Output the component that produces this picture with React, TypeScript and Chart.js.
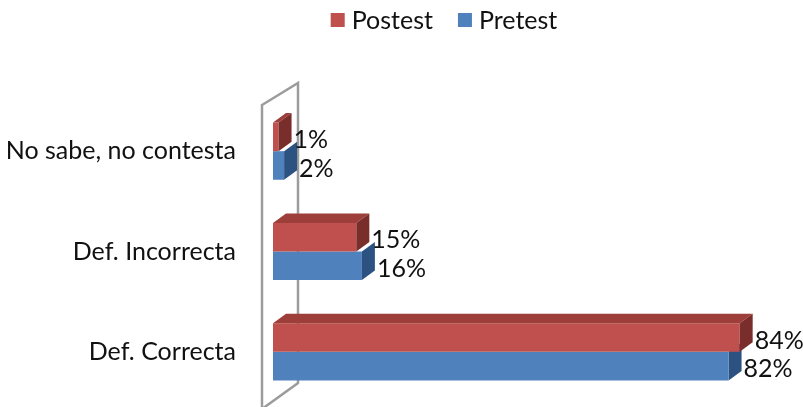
import { useEffect, useRef } from "react";
import { Chart, registerables } from "chart.js";

Chart.register(...registerables);

// Survey answers, top to bottom
const categories = ["No sabe, no contesta", "Def. Incorrecta", "Def. Correcta"];
const seriesNames = ["Postest", "Pretest"];
const postest = [1, 15, 84];
const pretest = [2, 16, 82];

const FONT = "Lato, 'Open Sans', sans-serif";
const TEXT_SIZE = 25;

// 3D extrusion offset of the bars (towards the back, up and right)
const DX = 13;
const DY = -9.5;

const FRONT = ["#C0504D", "#4F81BD"];
const TOP = ["#9E3E3B", "#3F6DA6"];
const SIDE = ["#7A2E2B", "#2C5282"];

type BarGeom = { x: number; y: number; base: number; height: number };

function geom(el: any): BarGeom {
  return el.getProps(["x", "y", "base", "height"], true);
}

function sideFace(ctx: CanvasRenderingContext2D, b: BarGeom, color: string) {
  const t = b.y - b.height / 2;
  const bt = b.y + b.height / 2;
  ctx.fillStyle = color;
  ctx.beginPath();
  ctx.moveTo(b.x, t);
  ctx.lineTo(b.x + DX, t + DY);
  ctx.lineTo(b.x + DX, bt + DY);
  ctx.lineTo(b.x, bt);
  ctx.closePath();
  ctx.fill();
}

function topFace(ctx: CanvasRenderingContext2D, b: BarGeom, color: string) {
  const t = b.y - b.height / 2;
  ctx.fillStyle = color;
  ctx.beginPath();
  ctx.moveTo(b.base, t);
  ctx.lineTo(b.base + DX, t + DY);
  ctx.lineTo(b.x + DX, t + DY);
  ctx.lineTo(b.x, t);
  ctx.closePath();
  ctx.fill();
}

const bars3d = {
  id: "bars3d",
  beforeDatasetsDraw(chart: any) {
    const ctx: CanvasRenderingContext2D = chart.ctx;
    const { left, top, bottom } = chart.chartArea;
    ctx.save();
    // side wall of the plot
    ctx.strokeStyle = "#9C9C9C";
    ctx.lineWidth = 2.5;
    ctx.lineJoin = "miter";
    ctx.beginPath();
    ctx.moveTo(left - 11, top + 4);
    ctx.lineTo(left + 25, top - 18);
    ctx.lineTo(left + 25, bottom - 19);
    ctx.lineTo(left - 11, bottom + 7);
    ctx.closePath();
    ctx.stroke();
    // shorter lower bars: their side sits behind the upper bar's front
    const upper = chart.getDatasetMeta(0).data;
    const lower = chart.getDatasetMeta(1).data;
    categories.forEach((_, j) => {
      const u = geom(upper[j]);
      const l = geom(lower[j]);
      if (l.x <= u.x) sideFace(ctx, l, SIDE[1]);
    });
    ctx.restore();
  },
  afterDatasetsDraw(chart: any) {
    const ctx: CanvasRenderingContext2D = chart.ctx;
    const upper = chart.getDatasetMeta(0).data;
    const lower = chart.getDatasetMeta(1).data;
    ctx.save();
    categories.forEach((_, j) => {
      const u = geom(upper[j]);
      const l = geom(lower[j]);
      topFace(ctx, u, TOP[0]);
      sideFace(ctx, u, SIDE[0]);
      if (l.x > u.x) sideFace(ctx, l, SIDE[1]);
    });
    // value labels
    ctx.font = `${TEXT_SIZE}px ${FONT}`;
    ctx.fillStyle = "#111";
    ctx.textAlign = "left";
    ctx.textBaseline = "middle";
    chart.data.datasets.forEach((ds: any, i: number) => {
      const meta = chart.getDatasetMeta(i);
      ds.data.forEach((v: number, j: number) => {
        const b = geom(meta.data[j]);
        ctx.fillText(`${v}%`, b.x + DX + 2, b.y + 3);
      });
    });
    ctx.restore();
  },
  afterDraw(chart: any) {
    // legend row
    const ctx: CanvasRenderingContext2D = chart.ctx;
    ctx.save();
    ctx.font = `${TEXT_SIZE}px ${FONT}`;
    ctx.textBaseline = "middle";
    ctx.textAlign = "left";
    const box = 14;
    const gap = 7;
    const between = 25;
    const items = chart.data.datasets.map((ds: any) => ({
      label: ds.label as string,
      color: ds.backgroundColor as string,
      w: ctx.measureText(ds.label).width,
    }));
    const total = items.reduce((s: number, it: any) => s + box + gap + it.w, 0) + between * (items.length - 1);
    let x = 444 - total / 2;
    const cy = 20;
    items.forEach((it: any) => {
      ctx.fillStyle = it.color;
      ctx.fillRect(x, cy - box / 2, box, box);
      ctx.fillStyle = "#111";
      ctx.fillText(it.label, x + box + gap, cy + 1);
      x += box + gap + it.w + between;
    });
    ctx.restore();
  },
};

export default function App() {
  const ref = useRef<HTMLCanvasElement>(null);

  useEffect(() => {
    if (!ref.current) return;
    const chart = new Chart(ref.current, {
      type: "bar",
      data: {
        labels: categories,
        datasets: [
          { label: seriesNames[0], data: postest, backgroundColor: FRONT[0], borderWidth: 0 },
          { label: seriesNames[1], data: pretest, backgroundColor: FRONT[1], borderWidth: 0 },
        ],
      },
      options: {
        indexAxis: "y",
        responsive: false,
        animation: false,
        events: [],
        layout: { padding: { top: 101, bottom: 5, left: 0, right: 30 } },
        datasets: { bar: { categoryPercentage: 0.57, barPercentage: 1.0 } },
        plugins: { legend: { display: false }, tooltip: { enabled: false } },
        scales: {
          x: { display: false, min: 0, max: 90 },
          y: {
            grid: { display: false, drawTicks: false },
            border: { display: false },
            ticks: {
              padding: 37,
              color: "#111",
              font: { family: FONT, size: TEXT_SIZE },
            },
            afterFit(scale: any) {
              scale.width = 273;
              scale.paddingTop = 0;
              scale.paddingBottom = 0;
            },
          },
        },
      },
      plugins: [bars3d],
    });
    return () => chart.destroy();
  }, []);

  return (
    <div style={{ position: "absolute", left: 0, top: 0, width: 803, height: 407, background: "#fff" }}>
      <canvas ref={ref} width={803} height={407} style={{ display: "block" }} />
    </div>
  );
}
